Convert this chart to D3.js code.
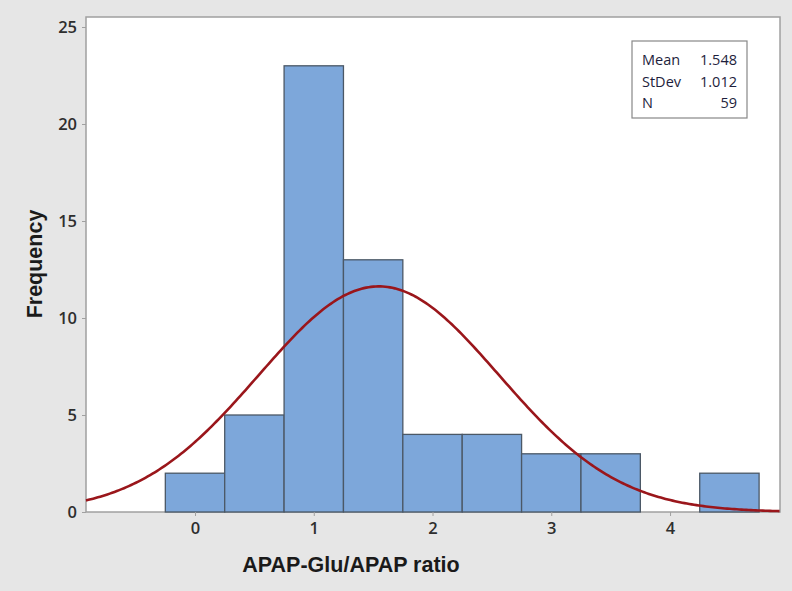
<!DOCTYPE html>
<html>
<head>
<meta charset="utf-8">
<script src="https://cdn.jsdelivr.net/npm/d3@7"></script>
<style>
  body { margin: 0; background: #e6e6e6; }
  svg { display: block; }
</style>
</head>
<body>
<div id="chart"></div>
<script>
// histogram bins (midpoints) and counts
const binMids = [0, 0.5, 1, 1.5, 2, 2.5, 3, 3.5, 4, 4.5];
const counts = [2, 5, 23, 13, 4, 4, 3, 3, 0, 2];
const binWidth = 0.5;
const xTicks = [0, 1, 2, 3, 4];
const yTicks = [0, 5, 10, 15, 20, 25];
// summary stats shown in the box, used for the normal fit
const statLabels = ["Mean", "StDev", "N"];
const statValues = ["1.548", "1.012", "59"];
const mean = 1.548, sd = 1.012, n = 59;

const width = 792, height = 591;
const margin = { top: 17, right: 12, bottom: 79, left: 86 };

const svg = d3.select("#chart").append("svg")
  .attr("width", width)
  .attr("height", height);

svg.append("rect")
  .attr("width", width).attr("height", height)
  .attr("fill", "#e6e6e6");

// scales
const x = d3.scaleLinear()
  .domain([-0.918, 4.926])
  .range([margin.left, width - margin.right]);
const y = d3.scaleLinear()
  .domain([0, 25])
  .range([height - margin.bottom, 27]);

// plot area
svg.append("rect")
  .attr("x", margin.left)
  .attr("y", margin.top)
  .attr("width", width - margin.right - margin.left)
  .attr("height", height - margin.bottom - margin.top)
  .attr("fill", "#fff")
  .attr("stroke", "#a0a0a0")
  .attr("stroke-width", 1.5);

// bars
svg.append("g")
  .selectAll("rect")
  .data(binMids.map((m, i) => ({ m, c: counts[i] })).filter(d => d.c > 0))
  .enter()
  .append("rect")
  .attr("x", d => x(d.m - binWidth / 2))
  .attr("width", d => x(d.m + binWidth / 2) - x(d.m - binWidth / 2))
  .attr("y", d => y(d.c))
  .attr("height", d => y(0) - y(d.c))
  .attr("fill", "#7da7da")
  .attr("stroke", "#4b5866")
  .attr("stroke-width", 1.3);

// normal fit scaled to counts
const pdf = v => Math.exp(-0.5 * ((v - mean) / sd) ** 2) / (sd * Math.sqrt(2 * Math.PI));
const dom = x.domain();
const curve = d3.range(dom[0], dom[1] + 0.001, 0.02).map(v => [v, n * binWidth * pdf(v)]);

svg.append("path")
  .datum(curve)
  .attr("fill", "none")
  .attr("stroke", "#9a161b")
  .attr("stroke-width", 2.6)
  .attr("d", d3.line().x(d => x(d[0])).y(d => y(d[1])));

// axes
const xAxis = d3.axisBottom(x).tickValues(xTicks).tickFormat(d3.format("d"))
  .tickSize(4).tickSizeOuter(0).tickPadding(6);
const yAxis = d3.axisLeft(y).tickValues(yTicks).tickFormat(d3.format("d"))
  .tickSize(4).tickSizeOuter(0).tickPadding(5);

const gx = svg.append("g")
  .attr("transform", "translate(0," + (height - margin.bottom) + ")")
  .call(xAxis);
const gy = svg.append("g")
  .attr("transform", "translate(" + margin.left + ",0)")
  .call(yAxis);

[gx, gy].forEach(g => {
  g.select(".domain").remove();
  g.selectAll(".tick line").attr("stroke", "#a0a0a0");
  g.selectAll(".tick text")
    .attr("fill", "#2e2e2e")
    .style("font-family", "'Open Sans', sans-serif")
    .style("font-weight", 600)
    .style("font-size", "16.5px");
});

// axis titles
svg.append("text")
  .attr("x", 351)
  .attr("y", 572)
  .attr("text-anchor", "middle")
  .style("font-family", "'Liberation Sans', Arial, sans-serif")
  .style("font-weight", "bold")
  .style("font-size", "21.5px")
  .attr("fill", "#1a1a1a")
  .text("APAP-Glu/APAP ratio");

svg.append("text")
  .attr("transform", "translate(42,264) rotate(-90)")
  .attr("text-anchor", "middle")
  .style("font-family", "'Liberation Sans', Arial, sans-serif")
  .style("font-weight", "bold")
  .style("font-size", "21.5px")
  .attr("fill", "#1a1a1a")
  .text("Frequency");

// stats box
const box = svg.append("g").attr("transform", "translate(632,41)");
box.append("rect")
  .attr("width", 115).attr("height", 77)
  .attr("fill", "#fff")
  .attr("stroke", "#888")
  .attr("stroke-width", 1.2);

statLabels.forEach((lab, i) => {
  box.append("text")
    .attr("x", 10).attr("y", 24 + i * 21.5)
    .style("font-family", "'Open Sans', sans-serif")
    .style("font-size", "14.5px")
    .attr("fill", "#1e1e3c")
    .text(lab);
  box.append("text")
    .attr("x", 105).attr("y", 24 + i * 21.5)
    .attr("text-anchor", "end")
    .style("font-family", "'Open Sans', sans-serif")
    .style("font-size", "14.5px")
    .attr("fill", "#1e1e3c")
    .text(statValues[i]);
});
</script>
</body>
</html>
